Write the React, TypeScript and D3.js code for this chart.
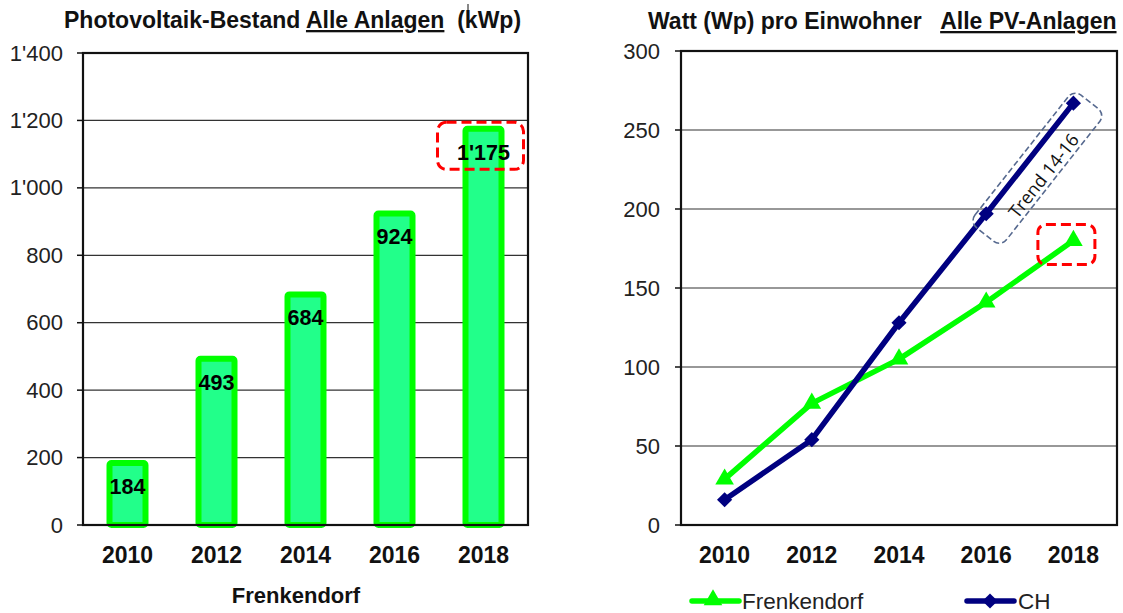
import React from 'react';
import * as d3 from 'd3';

const years = ['2010', '2012', '2014', '2016', '2018'];
const bestandKWp = [184, 493, 684, 924, 1175];
const leftTicks = [0, 200, 400, 600, 800, 1000, 1200, 1400];
const frenkendorfW = [29, 77, 105, 141, 180];
const chW = [16, 54, 128, 197, 267];
const rightTicks = [0, 50, 100, 150, 200, 250, 300];

const leftTitleA = 'Photovoltaik-Bestand ';
const leftTitleU = 'Alle Anlagen';
const leftTitleB = '  (kWp)';
const rightTitleA = 'Watt (Wp) pro Einwohner   ';
const rightTitleU = 'Alle PV-Anlagen';
const leftXLabel = 'Frenkendorf';
const seriesNames = ['Frenkendorf', 'CH'];
const trendText = 'Trend 14-16';

const GREEN = '#00FF00';
const BAR_FILL = '#22FF8A';
const NAVY = '#000080';
const FONT = "'Liberation Sans', Arial, sans-serif";

const fmt = (v: number) => d3.format(',')(v).replace(/,/g, "'");

export default function App() {
  // Left chart scales
  const xL = d3.scaleBand<string>().domain(years).range([83, 528]);
  const yL = d3.scaleLinear().domain([0, 1400]).range([525, 53]);
  const cxL = (y: string) => (xL(y) as number) + xL.bandwidth() / 2;

  // Right chart scales
  const xR = d3.scaleBand<string>().domain(years).range([681, 1117]);
  const yR = d3.scaleLinear().domain([0, 300]).range([525, 51]);
  const cxR = (y: string) => (xR(y) as number) + xR.bandwidth() / 2;

  const line = d3
    .line<[number, number]>()
    .x((d) => d[0])
    .y((d) => d[1]);
  const frPts: [number, number][] = years.map((y, i) => [cxR(y), yR(frenkendorfW[i])]);
  const chPts: [number, number][] = years.map((y, i) => [cxR(y), yR(chW[i])]);

  const tri = d3.symbol().type(d3.symbolTriangle).size(150)() as string;
  const dia = d3.symbol().type(d3.symbolSquare).size(115)() as string;

  // trend box
  const p1 = chPts[3];
  const p2 = chPts[4];
  const dx = p2[0] - p1[0];
  const dy = p2[1] - p1[1];
  const len = Math.hypot(dx, dy);
  const ux = dx / len;
  const uy = dy / len;
  const vx = -uy;
  const vy = ux;
  const ang = (Math.atan2(dy, dx) * 180) / Math.PI;
  const tcx = (p1[0] + p2[0]) / 2 + 12 * vx - 3 * ux;
  const tcy = (p1[1] + p2[1]) / 2 + 12 * vy - 3 * uy;

  const barW = 36;

  return (
    <svg
      width={1123}
      height={613}
      style={{ position: 'absolute', left: 0, top: 0, background: '#fff' }}
      fontFamily={FONT}
    >
      <rect x={0} y={0} width={1123} height={613} fill="#fff" />

      {/* ---------- LEFT CHART ---------- */}
      <text x={64} y={28} fontSize={23} fontWeight="bold" fill="#111" style={{ whiteSpace: 'pre' }}>
        {leftTitleA}
        <tspan textDecoration="underline">{leftTitleU}</tspan>
        {leftTitleB}
      </text>
      <line x1={468} x2={468} y1={4} y2={19} stroke="#111" strokeWidth={1} />

      {leftTicks.map((t) => (
        <g key={'lt' + t}>
          {t > 0 && t < 1400 && (
            <line x1={83} x2={528} y1={yL(t)} y2={yL(t)} stroke="#333" strokeWidth={1.2} />
          )}
          <line x1={77} x2={83} y1={yL(t)} y2={yL(t)} stroke="#111" strokeWidth={1.5} />
          <text x={63} y={yL(t) + 7.5} fontSize={22} textAnchor="end" fill="#222">
            {fmt(t)}
          </text>
        </g>
      ))}

      {years.map((y, i) => (
        <rect
          key={'bar' + y}
          x={cxL(y) - barW / 2}
          y={yL(bestandKWp[i])}
          width={barW}
          height={yL(0) - yL(bestandKWp[i])}
          fill={BAR_FILL}
          stroke={GREEN}
          strokeWidth={6}
          rx={2}
        />
      ))}

      <rect x={83} y={53} width={445} height={472} fill="none" stroke="#111" strokeWidth={2.2} />

      {years.map((y, i) => (
        <text
          key={'bl' + y}
          x={cxL(y)}
          y={yL(bestandKWp[i]) + 31}
          fontSize={21.5}
          fontWeight="bold"
          textAnchor="middle"
          fill="#000"
        >
          {fmt(bestandKWp[i])}
        </text>
      ))}

      {years.map((y) => (
        <text key={'lx' + y} x={cxL(y)} y={563} fontSize={23} fontWeight="bold" textAnchor="middle" fill="#111">
          {y}
        </text>
      ))}
      <text x={296} y={603} fontSize={22} fontWeight="bold" textAnchor="middle" fill="#111">
        {leftXLabel}
      </text>

      <rect
        x={cxL('2018') - 3 - 43}
        y={yL(1175) + 17 - 23.5}
        width={86}
        height={47}
        rx={9}
        fill="none"
        stroke="#FF0000"
        strokeWidth={3}
        strokeDasharray="10 5"
      />

      {/* ---------- RIGHT CHART ---------- */}
      <text x={648} y={29} fontSize={23} fontWeight="bold" fill="#111" style={{ whiteSpace: 'pre' }}>
        {rightTitleA}
        <tspan textDecoration="underline">{rightTitleU}</tspan>
      </text>

      {rightTicks.map((t) => (
        <g key={'rt' + t}>
          {t > 0 && t < 300 && (
            <line x1={681} x2={1117} y1={yR(t)} y2={yR(t)} stroke="#333" strokeWidth={1.2} />
          )}
          <line x1={675} x2={681} y1={yR(t)} y2={yR(t)} stroke="#111" strokeWidth={1.5} />
          <text x={660} y={yR(t) + 7.5} fontSize={22} textAnchor="end" fill="#222">
            {t}
          </text>
        </g>
      ))}
      <rect x={681} y={51} width={436} height={474} fill="none" stroke="#111" strokeWidth={2.2} />

      <path d={line(frPts) as string} fill="none" stroke={GREEN} strokeWidth={5.5} strokeLinejoin="round" />
      {frPts.map((p, i) => (
        <path key={'fm' + i} d={tri} transform={`translate(${p[0]},${p[1]})`} fill={GREEN} />
      ))}
      <path d={line(chPts) as string} fill="none" stroke={NAVY} strokeWidth={5.5} strokeLinejoin="round" />
      {chPts.map((p, i) => (
        <path key={'cm' + i} d={dia} transform={`translate(${p[0]},${p[1]}) rotate(45)`} fill={NAVY} />
      ))}

      {years.map((y) => (
        <text key={'rx' + y} x={cxR(y)} y={563} fontSize={23} fontWeight="bold" textAnchor="middle" fill="#111">
          {y}
        </text>
      ))}

      {/* trend annotation */}
      <g transform={`translate(${tcx},${tcy}) rotate(${ang})`}>
        <rect
          x={-(len + 28) / 2}
          y={-20}
          width={len + 28}
          height={40}
          rx={9}
          fill="none"
          stroke="#56698F"
          strokeWidth={1.6}
          strokeDasharray="6 3"
        />
        <text
          x={-2}
          y={9}
          fontSize={18}
          fontFamily="'Open Sans', sans-serif"
          textAnchor="middle"
          dominantBaseline="central"
          fill="#111"
        >
          {trendText}
        </text>
      </g>

      <rect
        x={cxR('2018') - 7 - 28.5}
        y={yR(180) + 4 - 20}
        width={57}
        height={40}
        rx={8}
        fill="none"
        stroke="#FF0000"
        strokeWidth={3}
        strokeDasharray="10 5"
      />

      {/* legend */}
      <line x1={692} x2={739} y1={601} y2={601} stroke={GREEN} strokeWidth={5.5} strokeLinecap="round" />
      <path d={tri} transform="translate(713,600)" fill={GREEN} />
      <text x={742} y={609} fontSize={22.5} fill="#222">
        {seriesNames[0]}
      </text>
      <line x1={967} x2={1014} y1={601} y2={601} stroke={NAVY} strokeWidth={5.5} strokeLinecap="round" />
      <path d={dia} transform="translate(990,601) rotate(45)" fill={NAVY} />
      <text x={1018} y={609} fontSize={22.5} fill="#222">
        {seriesNames[1]}
      </text>
    </svg>
  );
}
